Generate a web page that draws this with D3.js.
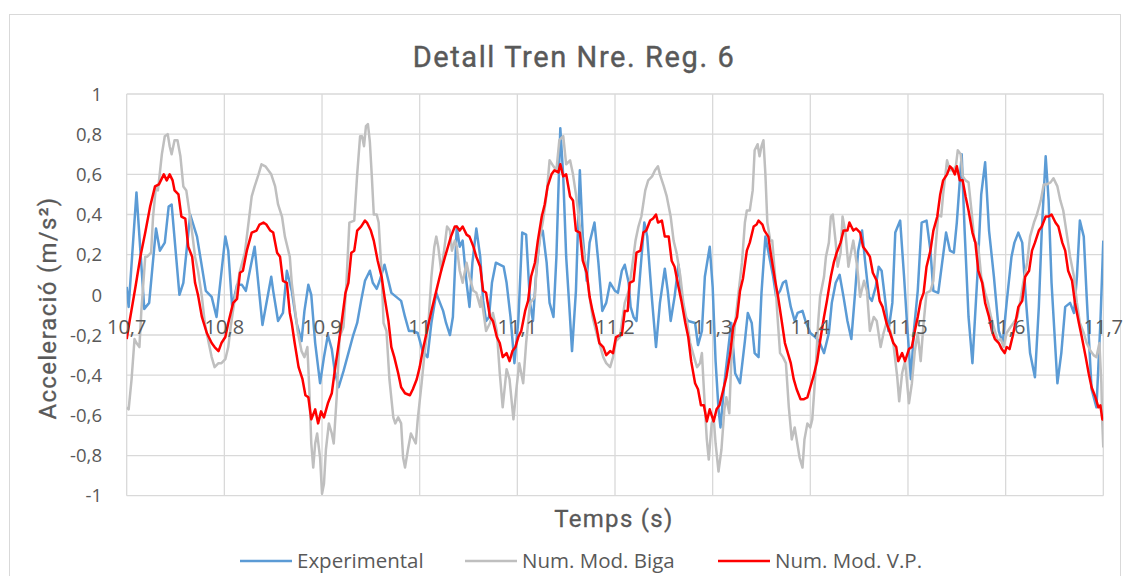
<!DOCTYPE html>
<html>
<head>
<meta charset="utf-8">
<script src="https://cdn.jsdelivr.net/npm/d3@7"></script>
<style>
  body { margin: 0; background: #fff; }
  svg { display: block; }
  .tick-label { font-family: "Open Sans", sans-serif; fill: #595959; }
  .title { font-family: Roboto, sans-serif; fill: #595959; }
</style>
</head>
<body>
<svg width="1129" height="576"></svg>
<script>
// tick values (labels use a decimal comma)
const xTicks = [10.7, 10.8, 10.9, 11.0, 11.1, 11.2, 11.3, 11.4, 11.5, 11.6, 11.7]
const yTicks = [-1, -0.8, -0.6, -0.4, -0.2, 0, 0.2, 0.4, 0.6, 0.8, 1]
const seriesNames = ['Experimental', 'Num. Mod. Biga', 'Num. Mod. V.P.']

// [time (s), acceleration (m/s2)]
const experimental = [
  [10.700,0.04],[10.702,-0.06],[10.710,0.51],[10.718,-0.07],[10.723,-0.04],[10.730,0.33],[10.734,0.22],[10.739,0.26],[10.743,0.44],[10.746,0.45],
  [10.754,0.00],[10.758,0.06],[10.765,0.40],[10.772,0.29],[10.781,0.02],[10.787,-0.01],[10.792,-0.11],[10.801,0.29],[10.804,0.22],[10.808,-0.06],
  [10.813,0.05],[10.818,0.05],[10.822,0.02],[10.831,0.24],[10.839,-0.15],[10.848,0.09],[10.850,0.02],[10.855,-0.13],[10.860,-0.09],[10.864,0.12],
  [10.869,0.02],[10.874,-0.14],[10.879,-0.23],[10.882,-0.08],[10.886,0.05],[10.889,0.00],[10.893,-0.24],[10.898,-0.44],[10.902,-0.31],[10.906,-0.20],
  [10.910,-0.27],[10.913,-0.38],[10.917,-0.46],[10.922,-0.38],[10.927,-0.29],[10.932,-0.20],[10.936,-0.14],[10.940,-0.03],[10.944,0.07],[10.949,0.12],
  [10.952,0.06],[10.956,0.03],[10.959,0.07],[10.964,0.15],[10.968,0.07],[10.971,0.01],[10.976,-0.01],[10.981,-0.03],[10.985,-0.11],[10.989,-0.18],
  [10.993,-0.18],[10.998,-0.19],[11.003,-0.28],[11.008,-0.31],[11.012,-0.14],[11.017,0.01],[11.020,-0.03],[11.024,-0.08],[11.027,-0.14],[11.031,-0.20],
  [11.034,-0.11],[11.038,0.34],[11.041,0.24],[11.044,0.27],[11.048,0.06],[11.051,-0.06],[11.054,0.16],[11.058,0.33],[11.062,0.19],[11.065,-0.03],
  [11.068,-0.13],[11.071,-0.11],[11.074,0.06],[11.078,0.16],[11.082,0.15],[11.086,0.14],[11.089,0.06],[11.093,-0.11],[11.097,-0.34],[11.101,-0.13],
  [11.105,0.31],[11.109,0.30],[11.113,-0.04],[11.116,-0.13],[11.119,0.09],[11.123,0.29],[11.126,0.32],[11.130,0.16],[11.133,-0.04],[11.137,-0.11],
  [11.140,0.19],[11.144,0.83],[11.147,0.59],[11.150,0.19],[11.153,-0.04],[11.156,-0.28],[11.160,0.02],[11.164,0.62],[11.167,0.29],[11.171,0.07],
  [11.174,0.26],[11.179,0.36],[11.183,0.16],[11.187,-0.08],[11.191,-0.04],[11.195,0.06],[11.200,0.02],[11.203,0.01],[11.207,0.12],[11.210,0.15],
  [11.214,0.06],[11.216,-0.06],[11.219,-0.11],[11.222,-0.13],[11.226,0.12],[11.230,0.36],[11.233,0.29],[11.238,-0.03],[11.242,-0.26],[11.246,-0.04],
  [11.251,0.13],[11.254,0.02],[11.257,-0.13],[11.261,-0.01],[11.265,0.15],[11.268,0.01],[11.272,-0.11],[11.275,-0.13],[11.282,-0.14],[11.285,-0.25],
  [11.289,-0.18],[11.292,0.09],[11.297,0.24],[11.300,0.04],[11.303,-0.33],[11.306,-0.57],[11.308,-0.66],[11.312,-0.44],[11.315,-0.31],[11.319,-0.14],
  [11.323,-0.39],[11.328,-0.44],[11.333,-0.23],[11.336,-0.09],[11.340,-0.14],[11.343,-0.29],[11.347,-0.31],[11.350,0.01],[11.354,0.29],[11.358,0.19],
  [11.362,0.09],[11.365,-0.01],[11.369,0.02],[11.372,0.06],[11.375,0.07],[11.380,-0.06],[11.384,-0.13],[11.387,-0.09],[11.392,-0.08],[11.395,-0.13],
  [11.400,-0.19],[11.405,-0.21],[11.409,-0.23],[11.414,-0.29],[11.419,-0.19],[11.422,-0.04],[11.426,0.06],[11.430,0.10],[11.434,-0.01],[11.438,-0.13],
  [11.442,-0.22],[11.446,0.02],[11.449,0.22],[11.453,0.32],[11.456,0.17],[11.460,-0.01],[11.463,-0.03],[11.467,0.04],[11.470,0.14],[11.473,0.12],
  [11.477,-0.04],[11.480,-0.18],[11.484,-0.04],[11.487,0.31],[11.492,0.37],[11.496,0.09],[11.499,-0.14],[11.503,-0.42],[11.506,-0.18],[11.510,0.02],
  [11.514,0.36],[11.519,0.37],[11.523,0.22],[11.526,0.02],[11.531,0.01],[11.535,0.16],[11.539,0.31],[11.543,0.22],[11.547,0.21],[11.550,0.36],
  [11.555,0.70],[11.558,0.32],[11.562,-0.11],[11.566,-0.34],[11.571,0.09],[11.575,0.50],[11.579,0.66],[11.583,0.32],[11.588,0.09],[11.593,-0.18],
  [11.597,-0.24],[11.601,-0.04],[11.606,0.19],[11.609,0.26],[11.613,0.31],[11.617,0.26],[11.621,-0.04],[11.625,-0.29],[11.630,-0.41],[11.634,-0.06],
  [11.637,0.32],[11.641,0.69],[11.644,0.47],[11.647,0.06],[11.653,-0.44],[11.657,-0.29],[11.661,-0.06],[11.666,-0.04],[11.670,-0.09],[11.673,0.09],
  [11.676,0.37],[11.680,0.29],[11.683,-0.01],[11.688,-0.47],[11.693,-0.56],[11.697,-0.14],[11.700,0.27]
]

const biga = [
  [10.700,-0.56],[10.702,-0.57],[10.705,-0.42],[10.708,-0.22],[10.710,-0.24],[10.713,-0.26],[10.715,-0.08],[10.719,0.19],[10.721,0.19],[10.725,0.21],
  [10.727,0.39],[10.730,0.54],[10.732,0.52],[10.736,0.70],[10.739,0.79],[10.742,0.80],[10.744,0.74],[10.746,0.70],[10.749,0.77],[10.752,0.77],
  [10.755,0.69],[10.758,0.54],[10.761,0.52],[10.764,0.42],[10.767,0.31],[10.770,0.19],[10.773,0.12],[10.777,-0.01],[10.780,-0.14],[10.784,-0.24],
  [10.787,-0.31],[10.790,-0.36],[10.794,-0.34],[10.797,-0.34],[10.801,-0.32],[10.804,-0.26],[10.807,-0.14],[10.811,-0.01],[10.816,0.12],[10.821,0.21],
  [10.825,0.37],[10.828,0.49],[10.831,0.54],[10.835,0.60],[10.838,0.65],[10.842,0.64],[10.845,0.62],[10.848,0.60],[10.852,0.54],[10.855,0.45],
  [10.859,0.39],[10.862,0.29],[10.867,0.19],[10.869,0.06],[10.872,-0.06],[10.875,-0.18],[10.879,-0.28],[10.882,-0.31],[10.885,-0.26],[10.887,-0.47],
  [10.889,-0.74],[10.891,-0.86],[10.893,-0.74],[10.895,-0.69],[10.898,-0.81],[10.900,-0.99],[10.902,-0.94],[10.904,-0.77],[10.907,-0.64],[10.910,-0.69],
  [10.912,-0.74],[10.915,-0.51],[10.918,-0.21],[10.922,-0.16],[10.925,0.06],[10.928,0.36],[10.933,0.37],[10.936,0.60],[10.939,0.79],[10.941,0.79],
  [10.943,0.74],[10.945,0.84],[10.947,0.85],[10.949,0.76],[10.951,0.59],[10.953,0.40],[10.956,0.40],[10.958,0.36],[10.961,0.11],[10.963,-0.14],
  [10.966,-0.18],[10.969,-0.42],[10.973,-0.61],[10.975,-0.64],[10.978,-0.61],[10.981,-0.64],[10.983,-0.81],[10.985,-0.86],[10.988,-0.77],[10.991,-0.69],
  [10.993,-0.71],[10.996,-0.74],[10.998,-0.62],[11.002,-0.44],[11.005,-0.29],[11.009,-0.14],[11.012,0.09],[11.015,0.24],[11.017,0.29],[11.019,0.24],
  [11.022,0.12],[11.025,0.22],[11.028,0.34],[11.031,0.32],[11.033,0.22],[11.036,0.27],[11.038,0.24],[11.041,0.12],[11.044,0.06],[11.048,0.16],
  [11.051,0.09],[11.055,0.02],[11.058,0.01],[11.062,-0.06],[11.063,-0.01],[11.066,-0.11],[11.068,-0.18],[11.072,-0.14],[11.075,-0.09],[11.079,-0.18],
  [11.082,-0.39],[11.085,-0.56],[11.089,-0.37],[11.092,-0.42],[11.096,-0.62],[11.099,-0.47],[11.102,-0.34],[11.106,-0.44],[11.109,-0.24],[11.113,-0.04],
  [11.118,-0.01],[11.120,0.16],[11.124,0.31],[11.126,0.36],[11.130,0.50],[11.133,0.67],[11.137,0.64],[11.140,0.62],[11.143,0.77],[11.147,0.79],
  [11.150,0.65],[11.154,0.67],[11.157,0.60],[11.160,0.50],[11.164,0.34],[11.167,0.24],[11.171,0.11],[11.174,-0.01],[11.177,-0.11],[11.181,-0.19],
  [11.184,-0.24],[11.188,-0.31],[11.191,-0.34],[11.195,-0.36],[11.198,-0.31],[11.201,-0.23],[11.205,-0.21],[11.207,-0.14],[11.210,-0.04],[11.214,0.02],
  [11.217,0.12],[11.221,0.27],[11.224,0.34],[11.227,0.39],[11.231,0.52],[11.234,0.57],[11.238,0.59],[11.241,0.62],[11.244,0.64],[11.246,0.60],
  [11.250,0.54],[11.253,0.49],[11.257,0.39],[11.260,0.27],[11.263,0.21],[11.267,0.09],[11.270,-0.04],[11.274,-0.14],[11.277,-0.24],[11.281,-0.31],
  [11.284,-0.36],[11.287,-0.34],[11.289,-0.29],[11.291,-0.47],[11.294,-0.72],[11.296,-0.82],[11.299,-0.64],[11.301,-0.61],[11.303,-0.74],[11.306,-0.88],
  [11.309,-0.77],[11.312,-0.57],[11.314,-0.51],[11.317,-0.59],[11.319,-0.34],[11.323,-0.14],[11.326,-0.01],[11.330,0.16],[11.333,0.36],[11.335,0.42],
  [11.338,0.42],[11.341,0.52],[11.343,0.72],[11.346,0.75],[11.348,0.69],[11.350,0.74],[11.352,0.77],[11.354,0.60],[11.356,0.36],[11.359,0.27],
  [11.361,0.27],[11.364,0.09],[11.366,-0.08],[11.369,-0.29],[11.372,-0.31],[11.375,-0.34],[11.378,-0.56],[11.381,-0.72],[11.384,-0.66],[11.386,-0.72],
  [11.389,-0.81],[11.392,-0.86],[11.394,-0.72],[11.397,-0.64],[11.400,-0.66],[11.402,-0.62],[11.405,-0.41],[11.408,-0.14],[11.410,-0.01],[11.414,0.09],
  [11.416,0.19],[11.419,0.26],[11.421,0.39],[11.423,0.40],[11.426,0.26],[11.428,0.14],[11.431,0.21],[11.433,0.39],[11.436,0.31],[11.439,0.14],
  [11.442,0.22],[11.444,0.27],[11.448,0.14],[11.451,-0.01],[11.455,0.07],[11.458,0.02],[11.461,-0.18],[11.465,-0.11],[11.468,-0.13],[11.472,-0.26],
  [11.475,-0.19],[11.478,-0.14],[11.482,-0.18],[11.485,-0.24],[11.489,-0.41],[11.491,-0.53],[11.494,-0.39],[11.497,-0.33],[11.501,-0.54],[11.504,-0.44],
  [11.507,-0.28],[11.510,-0.19],[11.513,-0.33],[11.516,-0.14],[11.519,0.01],[11.523,0.02],[11.526,0.07],[11.528,0.22],[11.531,0.40],[11.534,0.39],
  [11.536,0.50],[11.540,0.67],[11.543,0.62],[11.546,0.62],[11.549,0.64],[11.551,0.72],[11.554,0.70],[11.556,0.59],[11.559,0.57],[11.562,0.56],
  [11.565,0.42],[11.568,0.27],[11.572,0.24],[11.575,0.09],[11.579,0.01],[11.582,-0.04],[11.585,-0.11],[11.589,-0.18],[11.592,-0.23],[11.595,-0.22],
  [11.598,-0.26],[11.601,-0.19],[11.605,-0.16],[11.608,-0.14],[11.612,-0.11],[11.615,-0.03],[11.618,0.06],[11.622,0.16],[11.625,0.29],[11.629,0.36],
  [11.632,0.40],[11.636,0.47],[11.639,0.55],[11.642,0.55],[11.646,0.56],[11.649,0.58],[11.653,0.54],[11.656,0.47],[11.659,0.42],[11.663,0.29],
  [11.666,0.19],[11.670,0.09],[11.673,-0.04],[11.676,-0.14],[11.680,-0.19],[11.683,-0.24],[11.687,-0.28],[11.690,-0.30],[11.693,-0.31],[11.696,-0.24],
  [11.698,-0.44],[11.699,-0.64],[11.700,-0.76]
]

const vp = [
  [10.700,-0.22],[10.703,-0.13],[10.709,0.04],[10.714,0.19],[10.719,0.31],[10.724,0.44],[10.729,0.54],[10.733,0.55],[10.738,0.60],[10.741,0.57],
  [10.744,0.60],[10.747,0.57],[10.749,0.52],[10.753,0.50],[10.756,0.39],[10.760,0.38],[10.763,0.24],[10.767,0.19],[10.770,0.06],[10.773,0.00],
  [10.777,-0.11],[10.782,-0.19],[10.787,-0.24],[10.790,-0.26],[10.794,-0.28],[10.797,-0.24],[10.801,-0.21],[10.804,-0.14],[10.809,-0.04],[10.813,-0.02],
  [10.816,0.11],[10.819,0.12],[10.823,0.22],[10.828,0.31],[10.833,0.32],[10.836,0.35],[10.840,0.36],[10.843,0.35],[10.847,0.32],[10.850,0.31],
  [10.854,0.21],[10.857,0.19],[10.860,0.07],[10.864,0.06],[10.867,-0.09],[10.869,-0.14],[10.872,-0.24],[10.876,-0.36],[10.880,-0.42],[10.883,-0.50],
  [10.886,-0.51],[10.889,-0.62],[10.893,-0.57],[10.896,-0.64],[10.899,-0.58],[10.902,-0.61],[10.906,-0.54],[10.910,-0.49],[10.913,-0.38],[10.916,-0.28],
  [10.920,-0.14],[10.924,0.01],[10.927,0.06],[10.930,0.21],[10.933,0.22],[10.936,0.32],[10.940,0.34],[10.944,0.37],[10.946,0.36],[10.950,0.32],
  [10.953,0.27],[10.957,0.17],[10.961,0.09],[10.964,-0.01],[10.968,-0.13],[10.971,-0.26],[10.974,-0.31],[10.978,-0.39],[10.981,-0.46],[10.985,-0.49],
  [10.990,-0.50],[10.993,-0.47],[10.997,-0.42],[11.000,-0.36],[11.003,-0.28],[11.007,-0.19],[11.012,-0.08],[11.017,0.02],[11.022,0.12],[11.026,0.19],
  [11.029,0.24],[11.032,0.29],[11.036,0.34],[11.038,0.34],[11.041,0.32],[11.044,0.34],[11.048,0.30],[11.051,0.29],[11.055,0.24],[11.058,0.19],
  [11.062,0.14],[11.065,0.02],[11.068,0.01],[11.072,-0.11],[11.075,-0.13],[11.079,-0.21],[11.082,-0.24],[11.085,-0.31],[11.089,-0.29],[11.092,-0.33],
  [11.095,-0.28],[11.098,-0.26],[11.101,-0.21],[11.104,-0.18],[11.108,-0.08],[11.111,-0.03],[11.114,0.09],[11.118,0.16],[11.121,0.27],[11.125,0.39],
  [11.128,0.45],[11.131,0.54],[11.135,0.60],[11.138,0.62],[11.142,0.61],[11.144,0.65],[11.147,0.59],[11.150,0.60],[11.154,0.49],[11.157,0.47],
  [11.160,0.32],[11.164,0.31],[11.167,0.17],[11.171,0.11],[11.174,-0.01],[11.177,-0.08],[11.181,-0.16],[11.184,-0.24],[11.188,-0.26],[11.191,-0.30],
  [11.195,-0.28],[11.198,-0.29],[11.201,-0.21],[11.205,-0.20],[11.207,-0.20],[11.210,-0.08],[11.213,-0.08],[11.215,0.06],[11.219,0.07],[11.222,0.21],
  [11.226,0.22],[11.229,0.31],[11.232,0.32],[11.236,0.37],[11.239,0.38],[11.242,0.40],[11.244,0.36],[11.248,0.37],[11.251,0.29],[11.255,0.29],
  [11.258,0.17],[11.261,0.14],[11.265,0.04],[11.268,-0.03],[11.272,-0.14],[11.275,-0.21],[11.278,-0.33],[11.282,-0.44],[11.285,-0.47],[11.288,-0.55],
  [11.291,-0.55],[11.294,-0.63],[11.297,-0.57],[11.301,-0.63],[11.304,-0.57],[11.307,-0.55],[11.311,-0.47],[11.314,-0.41],[11.318,-0.29],[11.321,-0.16],
  [11.325,-0.11],[11.328,0.02],[11.331,0.08],[11.335,0.22],[11.338,0.26],[11.342,0.34],[11.345,0.35],[11.347,0.37],[11.351,0.35],[11.353,0.32],
  [11.357,0.29],[11.360,0.19],[11.364,0.07],[11.367,-0.01],[11.371,-0.14],[11.374,-0.24],[11.380,-0.34],[11.383,-0.42],[11.386,-0.47],[11.390,-0.52],
  [11.393,-0.52],[11.397,-0.51],[11.400,-0.46],[11.403,-0.41],[11.407,-0.33],[11.410,-0.23],[11.414,-0.11],[11.417,-0.03],[11.421,0.09],[11.424,0.16],
  [11.427,0.21],[11.431,0.26],[11.434,0.32],[11.438,0.32],[11.440,0.36],[11.444,0.32],[11.447,0.33],[11.451,0.31],[11.454,0.24],[11.457,0.22],
  [11.461,0.19],[11.464,0.11],[11.468,0.07],[11.471,-0.03],[11.474,-0.06],[11.478,-0.14],[11.481,-0.18],[11.485,-0.24],[11.488,-0.26],[11.490,-0.33],
  [11.494,-0.29],[11.497,-0.33],[11.501,-0.27],[11.504,-0.26],[11.507,-0.18],[11.510,-0.11],[11.513,-0.03],[11.516,0.01],[11.519,0.14],[11.523,0.22],
  [11.526,0.32],[11.530,0.39],[11.533,0.50],[11.536,0.57],[11.540,0.60],[11.543,0.64],[11.545,0.63],[11.548,0.60],[11.550,0.64],[11.553,0.57],
  [11.556,0.57],[11.559,0.49],[11.562,0.42],[11.566,0.31],[11.569,0.26],[11.572,0.12],[11.576,0.06],[11.579,-0.04],[11.583,-0.11],[11.586,-0.18],
  [11.589,-0.22],[11.593,-0.24],[11.596,-0.27],[11.599,-0.29],[11.601,-0.26],[11.604,-0.27],[11.607,-0.21],[11.610,-0.14],[11.613,-0.06],[11.617,-0.03],
  [11.620,0.09],[11.624,0.12],[11.627,0.22],[11.630,0.26],[11.634,0.32],[11.637,0.34],[11.641,0.39],[11.644,0.39],[11.647,0.40],[11.651,0.36],
  [11.654,0.34],[11.658,0.26],[11.661,0.22],[11.664,0.12],[11.668,0.07],[11.671,-0.04],[11.675,-0.14],[11.678,-0.21],[11.682,-0.31],[11.685,-0.39],
  [11.688,-0.46],[11.692,-0.51],[11.695,-0.56],[11.697,-0.55],[11.699,-0.62],[11.700,-0.62]
]

const svg = d3.select('svg')
const colors = ['#5b9bd5', '#bfbfbf', '#ff0000']
const fmt = d => String(+d.toFixed(1)).replace('.', ',')

const x = d3.scaleLinear().domain([10.7, 11.7]).range([126.7, 1103.3])
const y = d3.scaleLinear().domain([-1, 1]).range([495.7, 94])

/* chart frame */
svg.append('rect')
  .attr('x', 9.5).attr('y', 14.5).attr('width', 1111).attr('height', 600)
  .attr('fill', '#fff').attr('stroke', '#d9d9d9')

svg.append('text').classed('title', true)
  .attr('x', 574).attr('y', 67)
  .attr('text-anchor', 'middle')
  .attr('font-size', 29)
  .attr('letter-spacing', 1.6)
  .attr('stroke', '#595959').attr('stroke-width', 0.4)
  .text('Detall Tren Nre. Reg. 6')

/* grid */
const grid = svg.append('g').attr('stroke', '#d9d9d9').attr('stroke-width', 1.3)
grid.selectAll('.v').data(xTicks).enter().append('line')
  .attr('x1', d => x(d)).attr('x2', d => x(d))
  .attr('y1', y(1)).attr('y2', y(-1))
grid.selectAll('.h').data(yTicks).enter().append('line')
  .attr('y1', d => y(d)).attr('y2', d => y(d))
  .attr('x1', x(10.7)).attr('x2', x(11.7))

/* series */
svg.append('clipPath').attr('id', 'clip').append('rect')
  .attr('x', x(10.7)).attr('y', y(1)).attr('width', x(11.7) - x(10.7)).attr('height', y(-1) - y(1))

const line = d3.line().x(d => x(d[0])).y(d => y(d[1]))
svg.append('g').attr('clip-path', 'url(#clip)')
  .selectAll('path').data([experimental, biga, vp])
  .enter().append('path')
  .attr('d', line)
  .attr('fill', 'none')
  .attr('stroke', (d, i) => colors[i])
  .attr('stroke-width', 2.5)
  .attr('stroke-linejoin', 'round')

/* tick labels */
svg.append('g').selectAll('text').data(yTicks)
  .enter().append('text').classed('tick-label', true)
  .attr('x', 102).attr('y', d => y(d))
  .attr('dy', '0.36em')
  .attr('text-anchor', 'end')
  .attr('font-size', 18.5)
  .text(fmt)

svg.append('g').selectAll('text').data(xTicks)
  .enter().append('text').classed('tick-label', true)
  .attr('x', d => x(d)).attr('y', 334)
  .attr('text-anchor', 'middle')
  .attr('font-size', 20)
  .text(fmt)

/* axis titles */
svg.append('text').classed('title', true)
  .attr('x', 614).attr('y', 527)
  .attr('text-anchor', 'middle')
  .attr('font-size', 24)
  .attr('letter-spacing', 1.3)
  .attr('stroke', '#595959').attr('stroke-width', 0.3)
  .text('Temps (s)')

svg.append('text').classed('title', true)
  .attr('transform', 'translate(56,308) rotate(-90)')
  .attr('text-anchor', 'middle')
  .attr('font-size', 24)
  .attr('letter-spacing', 1.3)
  .attr('stroke', '#595959').attr('stroke-width', 0.3)
  .text('Acceleració (m/s²)')

/* legend */
const legendX = [240, 465, 718]
const legend = svg.append('g').selectAll('g').data(seriesNames)
  .enter().append('g')
  .attr('transform', (d, i) => `translate(${legendX[i]},561)`)
legend.append('line')
  .attr('x1', 0).attr('x2', 52)
  .attr('stroke', (d, i) => colors[i])
  .attr('stroke-width', 2.5)
legend.append('text').classed('tick-label', true)
  .attr('x', 57).attr('dy', '0.36em')
  .attr('font-size', 20.5)
  .text(d => d)
</script>
</body>
</html>
